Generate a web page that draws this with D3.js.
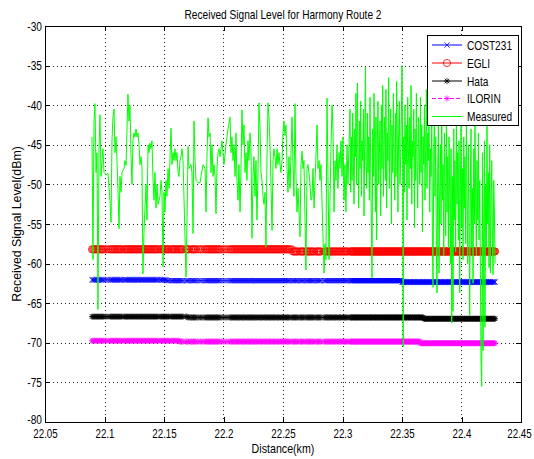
<!DOCTYPE html>
<html>
<head>
<meta charset="utf-8">
<script src="https://cdn.jsdelivr.net/npm/d3@7"></script>
<style>
  body { margin: 0; background: #fff; }
  text { font-family: "Liberation Sans", Arial, Helvetica, sans-serif; fill: #000; }
</style>
</head>
<body>
<div id="chart"></div>
<script>

var xTickValues = [22.05, 22.1, 22.15, 22.2, 22.25, 22.3, 22.35, 22.4, 22.45];
var xTickLabels = ["22.05", "22.1", "22.15", "22.2", "22.25", "22.3", "22.35", "22.4", "22.45"];
var yTickValues = [-80, -75, -70, -65, -60, -55, -50, -45, -40, -35, -30];
var yTickLabels = ["-80", "-75", "-70", "-65", "-60", "-55", "-50", "-45", "-40", "-35", "-30"];

var legendNames = ["COST231", "EGLI", "Hata", "ILORIN", "Measured"];

// model predictions are flat along the route, with small steps: [from distance (km), dBm]
var cost231 = [[22.0895, -62.05], [22.152, -62.15], [22.35, -62.33]];
var egli    = [[22.0895, -58.2], [22.258, -58.47]];
var hata    = [[22.0895, -66.7], [22.17, -66.8], [22.368, -66.97]];
var ilorin  = [[22.0895, -69.75], [22.163, -69.85], [22.365, -70.05]];

// measured drive test: [distance (km), dBm]
var measured = [
  [22.0895,-44.0],[22.0903,-59.5],[22.0912,-42.0],[22.0920,-39.8],[22.0929,-48.5],[22.0937,-46.0],[22.0945,-65.8],[22.0954,-45.5],
  [22.0962,-41.2],[22.0971,-49.0],[22.0979,-47.0],[22.0987,-45.5],[22.0996,-48.5],[22.1013,-48.8],[22.1029,-48.6],[22.1046,-52.0],
  [22.1055,-54.8],[22.1063,-44.5],[22.1071,-41.5],[22.1080,-40.5],[22.1088,-46.0],[22.1097,-44.0],[22.1105,-47.0],[22.1113,-50.5],
  [22.1122,-55.6],[22.1130,-49.0],[22.1139,-51.0],[22.1147,-48.5],[22.1164,-48.0],[22.1172,-47.0],[22.1181,-47.6],[22.1189,-43.0],
  [22.1197,-38.6],[22.1206,-42.0],[22.1214,-40.0],[22.1223,-46.5],[22.1231,-50.0],[22.1239,-44.5],[22.1248,-43.5],[22.1256,-44.0],
  [22.1265,-43.0],[22.1273,-44.0],[22.1281,-43.5],[22.1290,-45.0],[22.1298,-47.5],[22.1307,-46.5],[22.1315,-48.0],[22.1323,-61.3],
  [22.1332,-56.0],[22.1340,-53.0],[22.1349,-50.0],[22.1357,-54.5],[22.1366,-45.0],[22.1374,-46.0],[22.1382,-44.8],[22.1391,-45.5],
  [22.1399,-44.5],[22.1408,-49.5],[22.1416,-52.0],[22.1424,-48.5],[22.1433,-53.0],[22.1441,-50.0],[22.1450,-52.5],[22.1466,-51.5],
  [22.1475,-49.5],[22.1483,-51.0],[22.1492,-60.4],[22.1500,-51.0],[22.1508,-53.5],[22.1517,-49.5],[22.1525,-51.5],[22.1534,-48.0],
  [22.1542,-50.5],[22.1559,-42.9],[22.1567,-47.5],[22.1576,-46.0],[22.1584,-47.0],[22.1592,-45.5],[22.1601,-47.0],[22.1609,-46.0],
  [22.1618,-48.5],[22.1626,-49.0],[22.1634,-47.0],[22.1643,-46.5],[22.1651,-45.5],[22.1660,-47.0],[22.1685,-61.7],[22.1693,-55.0],
  [22.1702,-45.2],[22.1710,-48.0],[22.1727,-47.5],[22.1735,-48.5],[22.1744,-56.2],[22.1752,-42.0],[22.1761,-47.0],[22.1769,-49.5],
  [22.1786,-49.8],[22.1803,-49.8],[22.1811,-49.0],[22.1828,-47.5],[22.1845,-48.0],[22.1853,-53.5],[22.1861,-46.5],[22.1870,-41.6],
  [22.1878,-44.0],[22.1887,-43.5],[22.1895,-48.5],[22.1903,-45.0],[22.1912,-49.0],[22.1920,-47.5],[22.1929,-49.0],[22.1937,-53.7],
  [22.1945,-48.0],[22.1954,-46.0],[22.1962,-45.5],[22.1971,-46.5],[22.1987,-44.5],[22.2004,-47.5],[22.2021,-45.0],[22.2038,-43.0],
  [22.2055,-41.5],[22.2063,-46.0],[22.2071,-44.0],[22.2080,-47.0],[22.2088,-45.0],[22.2097,-49.0],[22.2105,-43.5],[22.2113,-49.5],
  [22.2122,-52.0],[22.2130,-47.5],[22.2139,-53.5],[22.2147,-48.0],[22.2155,-40.6],[22.2164,-45.0],[22.2172,-42.5],[22.2181,-48.5],
  [22.2189,-46.0],[22.2197,-49.5],[22.2206,-44.5],[22.2214,-47.0],[22.2223,-43.5],[22.2231,-45.5],[22.2239,-56.8],[22.2248,-49.0],
  [22.2256,-46.5],[22.2265,-51.5],[22.2273,-47.0],[22.2281,-54.5],[22.2290,-48.5],[22.2298,-39.7],[22.2307,-43.0],[22.2315,-48.5],
  [22.2324,-49.5],[22.2332,-51.5],[22.2340,-52.5],[22.2349,-51.0],[22.2357,-57.9],[22.2366,-46.0],[22.2374,-39.7],[22.2382,-41.5],
  [22.2391,-45.0],[22.2399,-50.0],[22.2408,-55.8],[22.2416,-47.0],[22.2424,-45.5],[22.2433,-46.5],[22.2441,-48.0],[22.2450,-45.5],
  [22.2458,-47.5],[22.2466,-46.0],[22.2475,-47.5],[22.2483,-48.5],[22.2492,-47.0],[22.2500,-43.5],[22.2508,-42.0],[22.2517,-43.8],
  [22.2525,-42.5],[22.2534,-48.0],[22.2542,-51.0],[22.2550,-46.5],[22.2559,-50.5],[22.2576,-41.5],[22.2584,-47.5],[22.2592,-51.5],
  [22.2601,-39.8],[22.2609,-49.0],[22.2618,-53.5],[22.2626,-50.5],[22.2643,-56.6],[22.2651,-47.5],[22.2660,-45.8],[22.2668,-48.0],
  [22.2676,-47.0],[22.2693,-60.8],[22.2702,-48.0],[22.2710,-47.5],[22.2718,-48.5],[22.2727,-50.0],[22.2735,-52.0],[22.2744,-51.5],
  [22.2752,-48.0],[22.2761,-53.0],[22.2777,-46.5],[22.2786,-42.5],[22.2794,-48.0],[22.2803,-47.0],[22.2811,-49.5],[22.2819,-47.5],
  [22.2845,-61.2],[22.2853,-57.5],[22.2861,-59.5],[22.2870,-39.1],[22.2878,-49.0],[22.2887,-59.5],[22.2895,-52.0],[22.2903,-45.5],
  [22.2912,-40.0],[22.2920,-43.0],[22.2929,-53.5],[22.2937,-47.0],[22.2945,-49.5],[22.2954,-45.0],[22.2962,-50.5],[22.2971,-46.0],
  [22.2979,-48.0],[22.2987,-44.5],[22.2996,-49.0],[22.3004,-44.0],[22.3013,-52.0],[22.3021,-47.5],[22.3029,-53.5],[22.3038,-45.0],
  [22.3046,-50.0],
  [22.3063,-40.5],[22.3069,-51.0],[22.3075,-44.0],[22.3080,-49.5],[22.3086,-41.0],[22.3092,-47.5],[22.3097,-52.5],[22.3103,-43.0],
  [22.3109,-46.5],[22.3113,-38.5],[22.3119,-50.0],[22.3125,-37.2],[22.3130,-45.5],[22.3136,-53.0],[22.3142,-42.0],[22.3147,-48.0],
  [22.3153,-39.5],[22.3159,-51.5],[22.3164,-44.5],[22.3170,-47.0],[22.3176,-40.5],[22.3181,-54.0],[22.3187,-43.5],[22.3193,-35.2],
  [22.3197,-46.0],[22.3203,-50.5],[22.3209,-41.0],[22.3214,-48.5],[22.3220,-44.0],[22.3226,-52.0],[22.3231,-39.0],[22.3237,-47.5],
  [22.3243,-55.5],[22.3248,-61.8],[22.3254,-43.0],[22.3260,-49.0],[22.3265,-38.5],[22.3271,-46.5],[22.3277,-53.5],[22.3281,-41.5],
  [22.3287,-57.0],[22.3293,-44.5],[22.3298,-39.5],[22.3304,-50.0],[22.3310,-46.0],[22.3315,-42.0],[22.3321,-54.0],[22.3327,-40.0],
  [22.3332,-48.0],[22.3338,-37.5],[22.3344,-51.5],[22.3349,-45.0],[22.3355,-41.5],[22.3361,-49.5],[22.3365,-38.0],[22.3371,-53.0],
  [22.3377,-43.5],[22.3382,-47.0],[22.3388,-36.5],[22.3394,-50.5],[22.3399,-44.0],[22.3405,-40.5],[22.3411,-55.0],[22.3416,-42.5],
  [22.3422,-48.5],[22.3428,-38.5],[22.3433,-46.0],[22.3439,-52.0],[22.3445,-41.0],[22.3449,-49.0],[22.3455,-37.0],[22.3461,-45.0],
  [22.3466,-53.5],[22.3472,-43.0],[22.3478,-39.5],[22.3483,-50.0],[22.3489,-46.5],[22.3495,-41.0],[22.3500,-35.0],[22.3506,-48.0],
  [22.3510,-70.5],[22.3514,-44.0],[22.3520,-51.0],[22.3525,-40.0],[22.3531,-47.5],[22.3537,-42.5],[22.3542,-54.5],[22.3548,-39.0],
  [22.3554,-45.5],[22.3559,-50.5],[22.3565,-41.5],[22.3571,-48.0],[22.3576,-37.5],[22.3582,-52.5],[22.3588,-44.5],[22.3593,-46.5],
  [22.3599,-40.5],[22.3605,-55.5],[22.3609,-43.0],[22.3615,-49.5],[22.3621,-38.5],[22.3626,-47.0],[22.3632,-53.0],[22.3638,-41.5],
  [22.3643,-45.5],[22.3649,-50.0],[22.3655,-39.0],[22.3660,-48.5],[22.3666,-42.5],[22.3672,-56.0],[22.3677,-44.0],[22.3683,-47.5],
  [22.3689,-40.0],[22.3693,-52.0],[22.3699,-45.0],[22.3705,-38.0],[22.3710,-50.5],[22.3716,-43.5],[22.3722,-47.0],[22.3727,-41.0],
  [22.3733,-53.5],[22.3739,-45.5],[22.3744,-49.0],[22.3750,-42.0],[22.3756,-57.5],[22.3761,-63.0],[22.3767,-46.0],[22.3773,-40.5],
  [22.3777,-51.5],[22.3783,-44.0],[22.3789,-58.5],[22.3794,-63.7],[22.3800,-48.0],[22.3806,-42.5],[22.3811,-61.2],[22.3817,-50.5],
  [22.3823,-45.0],[22.3828,-55.0],[22.3834,-41.0],[22.3840,-52.0],[22.3845,-47.5],[22.3851,-59.0],[22.3857,-43.5],[22.3861,-50.0],
  [22.3867,-56.5],[22.3873,-42.0],[22.3878,-53.5],[22.3884,-46.5],[22.3890,-58.0],[22.3895,-44.0],[22.3901,-51.0],[22.3907,-60.0],
  [22.3912,-45.5],[22.3918,-67.5],[22.3924,-49.0],[22.3929,-66.0],[22.3935,-43.0],[22.3941,-54.5],[22.3945,-47.0],[22.3951,-58.5],
  [22.3957,-41.5],[22.3962,-52.5],[22.3968,-46.0],[22.3974,-57.0],[22.3979,-44.5],[22.3985,-63.7],[22.3991,-50.0],[22.3996,-42.0],
  [22.4002,-55.5],[22.4008,-48.0],[22.4013,-59.5],[22.4019,-44.0],[22.4025,-53.0],[22.4029,-46.5],[22.4035,-57.5],[22.4041,-41.0],
  [22.4046,-51.5],[22.4052,-60.0],[22.4058,-45.0],[22.4063,-54.0],[22.4069,-66.5],[22.4075,-48.5],[22.4080,-43.0],[22.4086,-58.0],
  [22.4092,-50.5],[22.4097,-62.5],[22.4103,-45.5],[22.4109,-55.0],[22.4113,-41.5],[22.4119,-52.0],[22.4125,-59.0],[22.4130,-47.0],
  [22.4136,-54.5],[22.4142,-43.5],[22.4147,-57.0],[22.4153,-49.5],[22.4159,-61.0],[22.4164,-72.5],[22.4170,-75.5],[22.4176,-46.0],
  [22.4181,-71.0],[22.4187,-53.5],[22.4193,-44.5],[22.4197,-68.0],[22.4203,-50.0],[22.4209,-58.0],[22.4214,-42.5],[22.4220,-55.0],
  [22.4226,-48.5],[22.4231,-60.5],[22.4237,-45.0],[22.4243,-61.2],[22.4248,-52.5],[22.4254,-47.0],[22.4260,-57.5],[22.4265,-61.4],
  [22.4271,-49.5],[22.4277,-54.0],[22.4282,-60.0]
];

var margin = {top: 26, left: 45, right: 13, bottom: 37},
    width  = 534 - margin.left - margin.right,
    height = 459 - margin.top  - margin.bottom;

var x = d3.scaleLinear().domain([22.05, 22.45]).range([0, width]),
    y = d3.scaleLinear().domain([-80, -30]).range([height, 0]);

var svg = d3.select("#chart")
    .append("svg")
    .attr("width", 534)
    .attr("height", 459)
    .style("background", "#fff");

var g = svg.append("g").attr("transform", "translate(" + margin.left + "," + margin.top + ")");

// matlab screen fonts come out narrow: squeeze text horizontally around its anchor x
function squeeze(sel, k) {
  sel.each(function() {
    var ax = +(this.getAttribute("x") || 0);
    d3.select(this).attr("transform",
      "translate(" + ax + ",0) scale(" + k + ",1) translate(" + (-ax) + ",0)");
  });
}

// dotted grid
g.append("g").selectAll("line")
  .data(xTickValues.slice(1, -1))
  .enter().append("line")
    .attr("x1", function(d) { return Math.round(x(d)) + 0.5; })
    .attr("x2", function(d) { return Math.round(x(d)) + 0.5; })
    .attr("y1", 0).attr("y2", height)
    .attr("stroke", "#222").attr("stroke-width", 1)
    .attr("stroke-dasharray", "1,3");

g.append("g").selectAll("line")
  .data(yTickValues.slice(1, -1))
  .enter().append("line")
    .attr("y1", function(d) { return Math.round(y(d)) + 0.5; })
    .attr("y2", function(d) { return Math.round(y(d)) + 0.5; })
    .attr("x1", 0).attr("x2", width)
    .attr("stroke", "#222").attr("stroke-width", 1)
    .attr("stroke-dasharray", "1,3");

// model curves
function stepAt(steps, d) {
  var v = steps[0][1];
  steps.forEach(function(s) { if (d >= s[0]) v = s[1]; });
  return v;
}

var markTimes = "M-2.6,-2.6L2.6,2.6M-2.6,2.6L2.6,-2.6",
    markStar  = "M-3,0H3M0,-3V3M-2.2,-2.2L2.2,2.2M-2.2,2.2L2.2,-2.2";

var models = [
  {name: "COST231", steps: cost231, color: "#0000ff", mark: "times", dash: null},
  {name: "EGLI",    steps: egli,    color: "#ff0000", mark: "circle", dash: null},
  {name: "Hata",    steps: hata,    color: "#000000", mark: "star", dash: null},
  {name: "ILORIN",  steps: ilorin,  color: "#ff00ff", mark: "star", dash: "4,2"}
];

var line = d3.line()
    .x(function(d) { return x(d[0]); })
    .y(function(d) { return y(d[1]); });

function drawMark(sel, m) {
  if (m.mark === "circle") {
    sel.append("circle").attr("r", 3.6)
      .attr("fill", "none").attr("stroke", m.color).attr("stroke-width", 0.8);
  } else {
    sel.append("path").attr("d", m.mark === "times" ? markTimes : markStar)
      .attr("fill", "none").attr("stroke", m.color).attr("stroke-width", 0.8);
  }
}

models.forEach(function(m) {
  var pts = measured.map(function(p) { return [p[0], stepAt(m.steps, p[0])]; });
  var mg = g.append("g");
  mg.append("path")
    .datum(pts)
    .attr("d", line)
    .attr("fill", "none")
    .attr("stroke", m.color)
    .attr("stroke-width", 0.8)
    .attr("stroke-dasharray", m.dash);
  mg.selectAll("g.mk")
    .data(pts)
    .enter().append("g")
      .attr("class", "mk")
      .attr("transform", function(d) { return "translate(" + x(d[0]) + "," + y(d[1]) + ")"; })
      .each(function() { drawMark(d3.select(this), m); });
});

// measured signal
g.append("path")
  .datum(measured)
  .attr("d", line)
  .attr("fill", "none")
  .attr("stroke", "#00ff00")
  .attr("stroke-width", 1);

// axes, ticks inside on all four sides
var xAxis = g.append("g")
  .attr("transform", "translate(0," + height + ")")
  .call(d3.axisBottom(x).tickValues(xTickValues)
    .tickFormat(function(d, i) { return xTickLabels[i]; })
    .tickSizeInner(-5).tickSizeOuter(0).tickPadding(7));

g.append("g")
  .call(d3.axisTop(x).tickValues(xTickValues).tickFormat("")
    .tickSizeInner(-5).tickSizeOuter(0));

var yAxis = g.append("g")
  .call(d3.axisLeft(y).tickValues(yTickValues)
    .tickFormat(function(d, i) { return yTickLabels[i]; })
    .tickSizeInner(-5).tickSizeOuter(0).tickPadding(3));

g.append("g")
  .attr("transform", "translate(" + width + ",0)")
  .call(d3.axisRight(y).tickValues(yTickValues).tickFormat("")
    .tickSizeInner(-5).tickSizeOuter(0));

g.selectAll(".domain, .tick line").attr("stroke", "#000").attr("shape-rendering", "crispEdges");
g.selectAll(".tick text")
  .attr("font-family", null)
  .style("font-size", "13px")
  .attr("fill", "#000");
xAxis.attr("font-family", null).attr("font-size", null);
yAxis.attr("font-family", null).attr("font-size", null);
// the -80 label sits a touch above its tick so it clears 22.05, and 22.45 stays inside the page
yAxis.selectAll(".tick text").filter(function(d) { return d === -80; }).attr("dy", "0.15em");
xAxis.selectAll(".tick text").filter(function(d) { return d === 22.45; }).attr("x", -2);
squeeze(xAxis.selectAll(".tick text"), 0.75);
squeeze(yAxis.selectAll(".tick text"), 0.78);

// titles
var title = svg.append("text")
  .attr("x", margin.left + width / 2)
  .attr("y", 19)
  .attr("text-anchor", "middle")
  .style("font-size", "13px")
  .text("Received Signal Level for Harmony Route 2");
squeeze(title, 0.78);

var xLabel = svg.append("text")
  .attr("x", margin.left + width / 2)
  .attr("y", 453)
  .attr("text-anchor", "middle")
  .style("font-size", "13px")
  .text("Distance(km)");
squeeze(xLabel, 0.82);

var yLabel = svg.append("text")
  .attr("transform", "translate(21," + (margin.top + height / 2) + ") rotate(-90) scale(0.95,1)")
  .attr("text-anchor", "middle")
  .style("font-size", "13px")
  .text("Received Signal Level(dBm)");

// legend
var legend = svg.append("g").attr("transform", "translate(427,35)");
legend.append("rect")
  .attr("x", 0.5).attr("y", 0.5)
  .attr("width", 91).attr("height", 90)
  .attr("fill", "#fff").attr("stroke", "#000").attr("stroke-width", 1)
  .attr("shape-rendering", "crispEdges");

var legendItems = models.concat([{name: "Measured", color: "#00ff00", mark: null, dash: null}]);
var rowY = [10, 28, 46, 63.5, 81.5];

legendItems.forEach(function(m, i) {
  var row = legend.append("g").attr("transform", "translate(0," + rowY[i] + ")");
  row.append("line")
    .attr("x1", 5).attr("x2", 35).attr("y1", 0).attr("y2", 0)
    .attr("stroke", m.color).attr("stroke-width", 1)
    .attr("stroke-dasharray", m.dash);
  if (m.mark) {
    var mk = row.append("g").attr("transform", "translate(20,0)");
    drawMark(mk, m);
  }
  var t = row.append("text")
    .attr("x", 40).attr("y", 0).attr("dy", "0.35em")
    .style("font-size", "13px")
    .text(legendNames[i]);
  squeeze(t, 0.78);
});

</script>
</body>
</html>
